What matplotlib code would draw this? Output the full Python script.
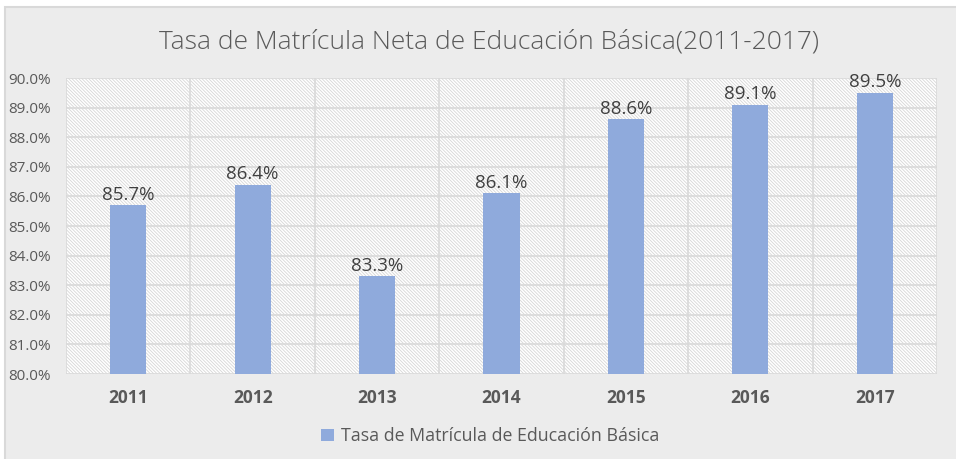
import numpy as np
import matplotlib.pyplot as plt
from matplotlib.patches import Rectangle
from matplotlib.ticker import FuncFormatter

years = ['2011', '2012', '2013', '2014', '2015', '2016', '2017']
tasa = [85.7, 86.4, 83.3, 86.1, 88.6, 89.1, 89.5]

plt.rcParams['font.family'] = ['Open Sans', 'DejaVu Sans']
plt.rcParams['hatch.color'] = '#d6d6d6'
plt.rcParams['hatch.linewidth'] = 0.6

fig = plt.figure(figsize=(9.56, 4.59), dpi=100, facecolor='white')
# chart background with thin border
fig.patches.append(Rectangle((5 / 956, -0.01), 1.0, 452 / 459 + 0.01, transform=fig.transFigure,
                             facecolor='#ececec', edgecolor='#d9d9d9', linewidth=1.5, zorder=-10))

ax = fig.add_axes([66 / 956, 85 / 459, 871 / 956, 296 / 459])
ax.set_facecolor('white')
ax.add_patch(Rectangle((0, 0), 1, 1, transform=ax.transAxes, facecolor='white',
                       edgecolor='#d6d6d6', hatch='\\' * 10, linewidth=0, zorder=0))

x = np.arange(len(years))
bars = ax.bar(x, tasa, width=0.29, color='#8faadc', zorder=3,
              label='Tasa de Matrícula de Educación Básica')

ax.set_ylim(80, 90)
ax.set_xlim(-0.5, len(years) - 0.5)
ax.set_yticks(np.arange(80, 90.1, 1))
ax.yaxis.set_major_formatter(FuncFormatter(lambda v, p: f'{v:.1f}%'))
ax.set_xticks(x)
ax.set_xticklabels(years, fontweight='bold', fontsize=12.5)
ax.tick_params(axis='both', colors='#595959', length=0)
ax.tick_params(axis='y', labelsize=11, pad=11)
ax.tick_params(axis='x', pad=11)

for v in np.arange(80, 90.1, 1):
    ax.axhline(v, color='#d9d9d9', linewidth=1.2, zorder=1)
for b in np.arange(-0.5, len(years), 1):
    ax.axvline(b, color='#d9d9d9', linewidth=1.2, zorder=1)
for s in ax.spines.values():
    s.set_visible(False)

for xi, v in zip(x, tasa):
    ax.text(xi, v + 0.06, f'{v}%', ha='center', va='bottom', fontsize=13.5, color='#404040', zorder=4)

fig.suptitle('Tasa de Matrícula Neta de Educación Básica(2011-2017)', x=0.512, y=0.935,
             fontsize=19, color='#595959', fontweight='light')

fig.legend(loc='center', bbox_to_anchor=(0.513, 0.05), frameon=False, fontsize=12.8,
           labelcolor='#595959', handlelength=0.7, handleheight=0.7, handletextpad=0.4)

fig.savefig('out.png', dpi=100, facecolor=fig.get_facecolor())
